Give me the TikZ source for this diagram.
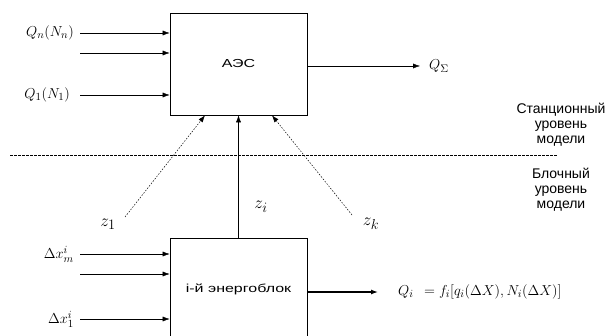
\documentclass[tikz,border=0pt]{standalone}
\usepackage{fontspec}
\setmainfont{Liberation Sans}
\newfontfamily\boxfont[FakeStretch=1.38]{Liberation Sans}
\usetikzlibrary{positioning,arrows.meta,calc}

\begin{document}
\begin{tikzpicture}[
x=1pt,y=-1pt,
node distance=6pt,
block/.style={
draw,
line width=0.7pt,
minimum width=137pt,
minimum height=102pt,
inner sep=0pt,
font=\boxfont\fontsize{11.6}{14}\selectfont
},
lbl/.style={inner sep=0pt,font=\fontsize{15}{17}\selectfont},
zlbl/.style={inner sep=0pt,font=\fontsize{19}{21}\selectfont},
level/.style={align=center,inner sep=0pt,font=\fontsize{14}{15}\selectfont},
>={Latex[length=7pt,width=5pt]}
]
\useasboundingbox (0,0) rectangle (609,336);

\node (aes) [block] at (238.5,64) {АЭС};
\node (unit) [block] at (238.5,289) {i-й энергоблок};

\coordinate (qn-in) at (80,33);
\coordinate (mid-in) at (80,53);
\coordinate (q1-in) at (80,95);
\node (qn) [lbl,left=of qn-in] {$Q_n(N_n)$};
\node (q1) [lbl,left=10pt of q1-in] {$Q_1(N_1)$};
\draw[->] (qn-in)--(qn-in -| aes.west);
\draw[->] (mid-in)--(mid-in -| aes.west);
\draw[->] (q1-in)--(q1-in -| aes.west);

\coordinate (qsum-out) at (420,66);
\node (qsum) [lbl,right=9pt of qsum-out] {$Q_\Sigma$};
\draw[->] (aes.east |- qsum-out)--(qsum-out);

\coordinate (sep-left) at (10,155);
\coordinate (sep-right) at (557,155);
\draw[dash pattern=on 2.5pt off 1.5pt,line width=0.5pt] (sep-left)--(sep-right);

\node (station) [level] at (561,125) {Станционный\\уровень\\модели};
\node (blocklvl) [level] at (561,190) {Блочный\\уровень\\модели};

\coordinate (z1-in) at (125,217);
\coordinate (zk-in) at (352,215);
\node (z1) [zlbl] at (108,224) {$z_1$};
\node (zi) [zlbl] at (261,207) {$z_i$};
\node (zk) [zlbl] at (371,224) {$z_k$};
\draw[->,dash pattern=on 1.5pt off 1.5pt,line width=0.5pt] (z1-in)--($(aes.south)+(-33.5,0)$);
\draw[->,dash pattern=on 1.5pt off 1.5pt,line width=0.5pt] (zk-in)--($(aes.south)+(33.5,0)$);
\draw[->] (unit.north)--(aes.south);

\coordinate (xm-in) at (80,254);
\coordinate (mid2-in) at (80,274);
\coordinate (x1-in) at (80,319);
\node (xm) [lbl,left=of xm-in] {$\Delta x_m^i$};
\node (x1) [lbl,left=of x1-in] {$\Delta x_1^i$};
\draw[->] (xm-in)--(xm-in -| unit.west);
\draw[->] (mid2-in)--(mid2-in -| unit.west);
\draw[->] (x1-in)--(x1-in -| unit.west);

\coordinate (qi-out) at (378,292);
\node (qi) [lbl,right=20pt of qi-out] {$Q_i\;\,=f_i[q_i(\Delta X),N_i(\Delta X)]$};
\draw[->,line width=1.3pt] (unit.east |- qi-out)--(qi-out);

\end{tikzpicture}
\end{document}
